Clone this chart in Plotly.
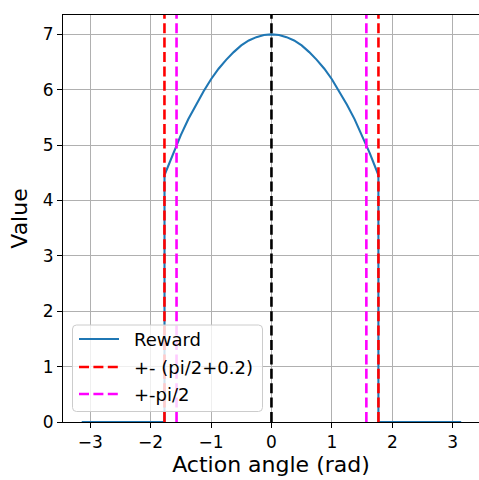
import math
import plotly.graph_objects as go

# Reward as a function of action angle (rad)
angle = [-3.14, -1.77, -1.77, -1.625, -1.5, -1.375, -1.25, -1.125, -1.0, -0.875,
         -0.75, -0.625, -0.5, -0.375, -0.25, -0.125, 0.0,
         0.125, 0.25, 0.375, 0.5, 0.625, 0.75, 0.875, 1.0,
         1.125, 1.25, 1.375, 1.5, 1.625, 1.77, 1.77, 3.14]
reward = [0.0, 0.0, 4.46, 4.86, 5.18, 5.47, 5.73, 5.97, 6.19, 6.38,
          6.54, 6.68, 6.80, 6.89, 6.95, 6.99, 7.00,
          6.99, 6.95, 6.89, 6.80, 6.68, 6.54, 6.38, 6.19,
          5.97, 5.73, 5.47, 5.18, 4.86, 4.46, 0.0, 0.0]

# Reference angles marked with vertical lines
limit_outer = math.pi / 2 + 0.2
limit_inner = math.pi / 2
center = 0.0

legend_labels = ["Reward", "+- (pi/2+0.2)", "+-pi/2"]

y_top = 7.35
font = "DejaVu Sans"
W, H = 479, 480
M_L, M_R, M_T, M_B = 63, 0, 15, 58
PW, PH = W - M_L - M_R, H - M_T - M_B

BLUE, RED, MAGENTA = "#1f77b4", "#ff0000", "#ff00ff"
dash_style = "10px,4.4px"

fig = go.Figure()

fig.add_trace(go.Scatter(
    x=angle, y=reward, mode="lines", name=legend_labels[0],
    line=dict(color=BLUE, width=2.1), showlegend=False,
))


def vline_pair(v):
    return [-v, -v, None, v, v], [0, y_top, None, 0, y_top]


xs, ys = vline_pair(limit_outer)
fig.add_trace(go.Scatter(
    x=xs, y=ys, mode="lines", name=legend_labels[1],
    line=dict(color=RED, width=2.6, dash=dash_style), showlegend=False,
))
xs, ys = vline_pair(limit_inner)
fig.add_trace(go.Scatter(
    x=xs, y=ys, mode="lines", name=legend_labels[2],
    line=dict(color=MAGENTA, width=2.6, dash=dash_style), showlegend=False,
))
fig.add_trace(go.Scatter(
    x=[center, center], y=[0, y_top], mode="lines", showlegend=False,
    line=dict(color="#000000", width=2.6, dash=dash_style),
))


# ---- legend box drawn in pixel positions relative to the page ----
def px(xp):
    return (xp - M_L) / PW


def py(yp):
    return (H - M_B - yp) / PH


box_l, box_r, box_t, box_b, rad = 72.5, 262.5, 325, 411.5, 4
rx, ry = rad / PW, rad / PH
L, R, T, B = px(box_l), px(box_r), py(box_t), py(box_b)
box_path = (
    f"M{L + rx},{T} L{R - rx},{T} Q{R},{T} {R},{T - ry} "
    f"L{R},{B + ry} Q{R},{B} {R - rx},{B} "
    f"L{L + rx},{B} Q{L},{B} {L},{B + ry} "
    f"L{L},{T - ry} Q{L},{T} {L + rx},{T} Z"
)
shapes = [dict(
    type="path", path=box_path, xref="paper", yref="paper",
    fillcolor="rgba(255,255,255,0.8)", line=dict(color="#cccccc", width=1),
    layer="above",
)]

entry_y = [339, 367, 394]
entry_styles = [
    dict(color=BLUE, width=2.1),
    dict(color=RED, width=2.6, dash=dash_style),
    dict(color=MAGENTA, width=2.6, dash=dash_style),
]
annotations = []
for label, ey, style in zip(legend_labels, entry_y, entry_styles):
    shapes.append(dict(
        type="line", xref="paper", yref="paper",
        x0=px(79), x1=px(119), y0=py(ey), y1=py(ey),
        line=style, layer="above",
    ))
    annotations.append(dict(
        text=label, xref="paper", yref="paper", x=px(132), y=py(ey),
        xanchor="left", yanchor="middle", showarrow=False,
        font=dict(family=font, size=18, color="black"),
    ))

axis_common = dict(
    showgrid=True, gridcolor="#b0b0b0", gridwidth=1.1,
    zeroline=False, showline=True, linecolor="black", linewidth=1.1,
    ticks="outside", ticklen=5, tickwidth=1.1, tickcolor="black",
    tickfont=dict(family=font, size=17, color="black"),
    dtick=1, layer="below traces",
)

fig.update_layout(
    width=W, height=H,
    margin=dict(l=M_L, r=M_R, t=M_T, b=M_B),
    paper_bgcolor="white", plot_bgcolor="white",
    font=dict(family=font, color="black"),
    showlegend=False,
    shapes=shapes,
    annotations=annotations,
    xaxis=dict(
        range=[-3.45, 3.435], mirror=True,
        title=dict(text="Action angle (rad)", font=dict(family=font, size=22), standoff=5),
        **axis_common,
    ),
    yaxis=dict(
        range=[0, y_top], mirror=False,
        title=dict(text="Value", font=dict(family=font, size=22), standoff=9),
        **axis_common,
    ),
)

fig.write_html("out.html")
